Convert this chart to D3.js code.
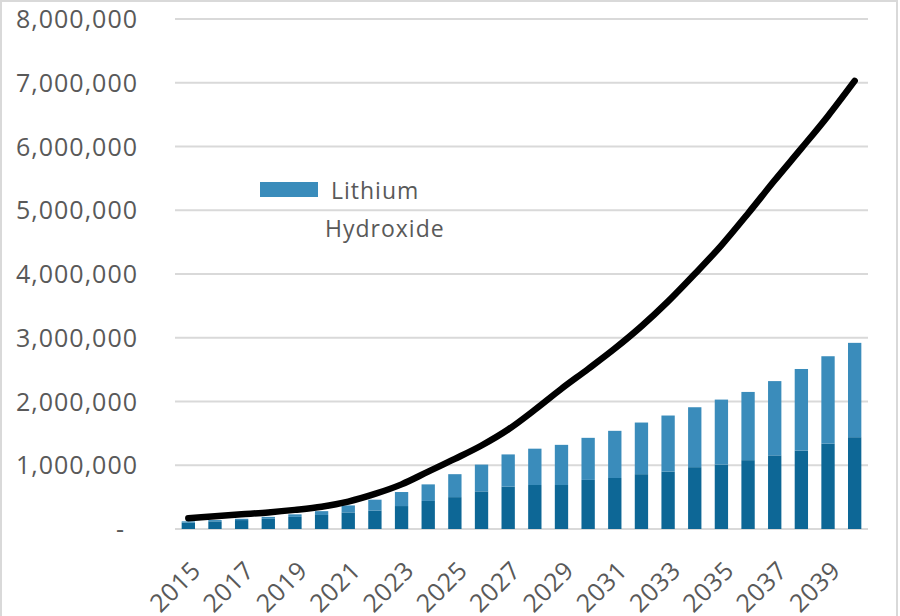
<!DOCTYPE html>
<html>
<head>
<meta charset="utf-8">
<script src="https://cdn.jsdelivr.net/npm/d3@7"></script>
<style>
  body { margin: 0; background: #fff; }
  text { font-family: "Open Sans", sans-serif; fill: #595959; }
</style>
</head>
<body>
<div id="chart"></div>
<script>
var years = d3.range(2015, 2041);
// lower (dark) segment, in tonnes
var carbonate = [100000, 120000, 140000, 160000, 190000, 220000, 260000, 290000, 360000, 440000,
                 500000, 590000, 665000, 690000, 690000, 770000, 800000, 860000, 900000, 970000,
                 1010000, 1080000, 1155000, 1230000, 1340000, 1440000];
// upper (light) segment
var hydroxide = [20000, 20000, 20000, 30000, 40000, 60000, 110000, 170000, 220000, 260000,
                 360000, 420000, 505000, 570000, 630000, 660000, 740000, 810000, 880000, 940000,
                 1020000, 1070000, 1165000, 1280000, 1370000, 1480000];
// black line
var total = [170000, 200000, 230000, 260000, 300000, 350000, 430000, 550000, 700000, 900000,
             1100000, 1310000, 1560000, 1870000, 2200000, 2510000, 2830000, 3180000, 3570000, 4000000,
             4450000, 4950000, 5470000, 5970000, 6480000, 7030000];
var yTicks = [0, 1000000, 2000000, 3000000, 4000000, 5000000, 6000000, 7000000, 8000000];
var xLabels = years.filter(function(y) { return (y - 2015) % 2 === 0; });

var width = 900, height = 616;
var plotLeft = 175, plotRight = 868, plotTop = 19, plotBottom = 529;

var svg = d3.select('#chart').append('svg')
    .attr('width', width)
    .attr('height', height);

// frame
svg.append('rect')
    .attr('x', 1).attr('y', 1)
    .attr('width', 896).attr('height', 620)
    .attr('fill', 'none')
    .attr('stroke', '#d9d9d9')
    .attr('stroke-width', 2);

var x = d3.scaleBand()
    .domain(years)
    .range([plotLeft, plotRight])
    .paddingInner(0.5)
    .paddingOuter(0.25);

var y = d3.scaleLinear()
    .domain([0, 8000000])
    .range([plotBottom, plotTop]);

// gridlines
svg.append('g')
    .selectAll('line')
    .data(yTicks)
    .enter().append('line')
    .attr('x1', plotLeft).attr('x2', plotRight)
    .attr('y1', function(d) { return y(d); })
    .attr('y2', function(d) { return y(d); })
    .attr('stroke', '#d9d9d9')
    .attr('stroke-width', 2);

// y labels
var fmt = d3.format(',');
svg.append('g')
    .selectAll('text')
    .data(yTicks)
    .enter().append('text')
    .attr('x', function(d) { return d === 0 ? 125 : 138; })
    .attr('y', function(d) { return y(d); })
    .attr('dy', '0.36em')
    .attr('text-anchor', 'end')
    .style('font-size', '25px')
    .style('letter-spacing', '1px')
    .text(function(d) { return d === 0 ? '-' : fmt(d); });

// stacked bars
var rows = years.map(function(yr, i) {
    return { year: yr, carbonate: carbonate[i], hydroxide: hydroxide[i] };
});
var stack = d3.stack().keys(['carbonate', 'hydroxide'])(rows);
var colour = d3.scaleOrdinal()
    .domain(['carbonate', 'hydroxide'])
    .range(['#0d6796', '#3a8cbb']);

svg.append('g')
    .selectAll('g')
    .data(stack)
    .enter().append('g')
    .attr('fill', function(d) { return colour(d.key); })
    .selectAll('rect')
    .data(function(d) { return d; })
    .enter().append('rect')
    .attr('x', function(d) { return x(d.data.year); })
    .attr('width', x.bandwidth())
    .attr('y', function(d) { return y(d[1]); })
    .attr('height', function(d) { return y(d[0]) - y(d[1]); });

// total line
var line = d3.line()
    .x(function(d, i) { return x(years[i]) + x.bandwidth() / 2; })
    .y(function(d) { return y(d); })
    .curve(d3.curveMonotoneX);

svg.append('path')
    .datum(total)
    .attr('d', line)
    .attr('fill', 'none')
    .attr('stroke', '#000')
    .attr('stroke-width', 6.5)
    .attr('stroke-linecap', 'round');

// x labels
svg.append('g')
    .selectAll('text')
    .data(xLabels)
    .enter().append('text')
    .attr('transform', function(d) {
        return 'translate(' + (x(d) + x.bandwidth() / 2 + 14) + ',572) rotate(-45)';
    })
    .attr('text-anchor', 'end')
    .style('font-size', '25px')
    .style('letter-spacing', '0.5px')
    .text(function(d) { return d; });

// legend
svg.append('rect')
    .attr('x', 260).attr('y', 182)
    .attr('width', 58).attr('height', 15)
    .attr('fill', colour('hydroxide'));
svg.append('text')
    .attr('x', 331).attr('y', 199)
    .style('font-size', '23px')
    .style('letter-spacing', '1px')
    .text('Lithium');
svg.append('text')
    .attr('x', 325).attr('y', 237)
    .style('font-size', '23px')
    .style('letter-spacing', '1px')
    .text('Hydroxide');
</script>
</body>
</html>
